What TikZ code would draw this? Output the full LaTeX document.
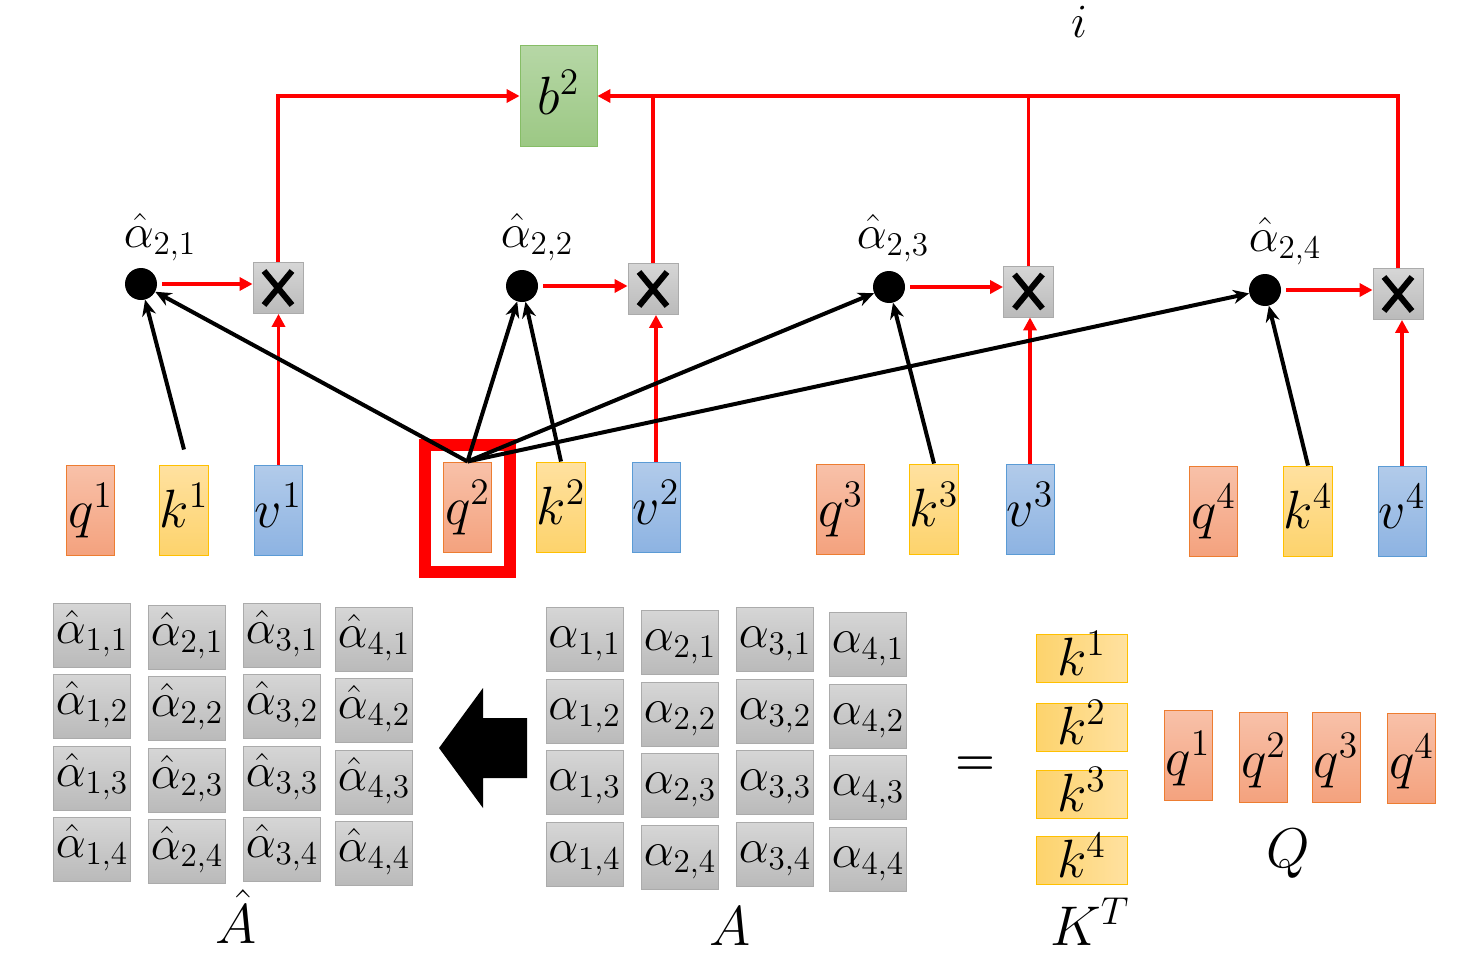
\documentclass[tikz,border=0pt]{standalone}
\usepackage{amsmath}
\usetikzlibrary{arrows.meta}
\definecolor{qtop}{HTML}{F8C1A9}
\definecolor{qbot}{HTML}{F4A27E}
\definecolor{qline}{HTML}{ED7D31}
\definecolor{ktop}{HTML}{FFE1A0}
\definecolor{kbot}{HTML}{FDD36C}
\definecolor{kline}{HTML}{FFC000}
\definecolor{vtop}{HTML}{B2CBEA}
\definecolor{vbot}{HTML}{8DB3E2}
\definecolor{vline}{HTML}{5B9BD5}
\definecolor{btop}{HTML}{B6D7A6}
\definecolor{bbot}{HTML}{9CC884}
\definecolor{bline}{HTML}{86BD66}
\definecolor{gtop}{HTML}{D6D6D6}
\definecolor{gbot}{HTML}{BABABA}
\definecolor{gline}{HTML}{ABABAB}
\definecolor{hred}{HTML}{FF0000}
\newcommand\MathAt[2]{\scalebox{#1}{\fontsize{20}{24}\selectfont$#2$}}
\newcommand\Mv[1]{\MathAt{2.6}{#1}}
\newcommand\Mc[1]{\MathAt{2.3}{#1}}
\newcommand\Ml[1]{\MathAt{2.7}{#1}}
\begin{document}
\begin{tikzpicture}[x=1pt,y=-1pt,
  vec/.style={minimum width=48pt,minimum height=90pt,inner sep=0pt,line width=1pt,
    text height=40pt,text depth=6pt},
  qbox/.style={vec,top color=qtop,bottom color=qbot,draw=qline},
  kbox/.style={vec,top color=ktop,bottom color=kbot,draw=kline},
  vbox/.style={vec,top color=vtop,bottom color=vbot,draw=vline},
  ktbox/.style={minimum width=91pt,minimum height=48pt,inner sep=0pt,line width=1pt,
    text height=40pt,text depth=6pt,left color=kbot,right color=ktop,draw=kline},
  qqbox/.style={qbox,text height=46pt,text depth=6pt},
  cell/.style={minimum width=77pt,minimum height=64pt,inner sep=0pt,line width=0.8pt,
    top color=gtop,bottom color=gbot,draw=gline,text height=24pt,text depth=8pt},
  xbox/.style={minimum width=50pt,minimum height=51pt,inner sep=0pt,line width=0.8pt,
    top color=gtop,bottom color=gbot,draw=gline},
  bbox/.style={minimum width=77pt,minimum height=101pt,inner sep=0pt,line width=0.8pt,
    top color=btop,bottom color=bbot,draw=bline,text height=36pt,text depth=0pt},
  dot/.style={circle,fill=black,minimum size=32pt,inner sep=0pt},
  txt/.style={inner sep=0pt,anchor=base},
  redln/.style={draw=hred,line width=3.5pt},
  redarr/.style={redln,-{Triangle[length=13pt,width=13pt]}},
  blkarr/.style={draw=black,line width=4pt,-{Stealth[length=16pt,width=14pt]}},
  xmark/.style={draw=black,line width=6pt}
]
\useasboundingbox (0,0) rectangle (1473,958);

% top label
\node[txt] (ilab) at (1079,38) {\Mc{i}};

% output b2
\node[bbox] (b) at (558.5,96) {\Mv{b^2}};

% multiplication boxes
\node[xbox] (x1) at (278,288) {};
\node[xbox] (x2) at (653,289) {};
\node[xbox] (x3) at (1028.5,291.5) {};
\node[xbox] (x4) at (1398,294) {};
\foreach \n in {x1,x2,x3,x4} {
  \draw[xmark] ([shift={(-14pt,17pt)}]\n.center) -- ([shift={(14pt,-17pt)}]\n.center);
  \draw[xmark] ([shift={(-14pt,-17pt)}]\n.center) -- ([shift={(14pt,17pt)}]\n.center);
}

% dots and their labels
\node[dot] (d1) at (141,284) {};
\node[dot] (d2) at (522,286) {};
\node[dot] (d3) at (889,287) {};
\node[dot] (d4) at (1265,290) {};
\node[txt] (l1) at (160,247) {\Mc{\hat\alpha_{2,1}}};
\node[txt] (l2) at (537,247) {\Mc{\hat\alpha_{2,2}}};
\node[txt] (l3) at (893,248) {\Mc{\hat\alpha_{2,3}}};
\node[txt] (l4) at (1285,251) {\Mc{\hat\alpha_{2,4}}};

% vectors
\node[qbox] (q1) at (90.5,510) {\Mv{q^1}};
\node[kbox] (k1) at (184,510) {\Mv{k^1}};
\node[vbox] (v1) at (278.5,510) {\Mv{v^1}};
\node[qbox] (q2) at (467.5,507) {\Mv{q^2}};
\node[kbox] (k2) at (561,507) {\Mv{k^2}};
\node[vbox] (v2) at (656,507) {\Mv{v^2}};
\node[qbox] (q3) at (840.5,509) {\Mv{q^3}};
\node[kbox] (k3) at (934,509) {\Mv{k^3}};
\node[vbox] (v3) at (1030,509) {\Mv{v^3}};
\node[qbox] (q4) at (1213.5,511) {\Mv{q^4}};
\node[kbox] (k4) at (1308,511) {\Mv{k^4}};
\node[vbox] (v4) at (1402,511) {\Mv{v^4}};

% highlight around q2
\node[draw=hred,line width=12pt,minimum width=85pt,minimum height=127pt,inner sep=0pt] (hl) at (467.5,508.5) {};

% red connectors
\draw[redarr] (x1.north) |- (b.west);
\draw[redarr] (x4.north) |- (b.east);
\draw[redln] (x2.north) -- (x2.north |- b.east);
\draw[redln] (x3.north) -- (x3.north |- b.east);
\foreach \i in {1,2,3,4} {
  \draw[redarr,shorten <=5pt] (d\i.east) -- (d\i.east -| x\i.west);
}
\draw[redarr] (v1.north) -- (v1.north |- x1.south);
\draw[redarr] (v2.north) -- (v2.north |- x2.south);
\draw[redarr] (v3.north) -- (v3.north |- x3.south);
\draw[redarr] (v4.north) -- (v4.north |- x4.south);

% black connectors
\draw[blkarr] ([yshift=15pt]k1.north) -- (d1);
\draw[blkarr] (q2.north) -- (d1);
\draw[blkarr] (q2.north) -- (d2);
\draw[blkarr] (k2.north) -- (d2);
\draw[blkarr] (q2.north) -- (d3);
\draw[blkarr] (k3.north) -- (d3);
\draw[blkarr] (q2.north) -- (d4);
\draw[blkarr] (k4.north) -- (d4);

% A-hat matrix
\foreach \c/\x/\dy in {1/92/0,2/187/2,3/282/0,4/374/4} {
  \foreach \r/\y in {1/635,2/706,3/778,4/849} {
    \node[cell] (ah\c\r) at (\x,{\y+\dy}) {\Mc{\hat\alpha_{\c,\r}}};
  }
}
\node[txt] (lAh) at (236,943) {\Ml{\hat A}};

% big left arrow
\fill[black] (439,748) -- (483,688) -- (483,718) -- (527,718) -- (527,778) -- (483,778) -- (483,808) -- cycle;

% A matrix
\foreach \c/\x/\dy in {1/584.5/0,2/680/3,3/775/0,4/868/5} {
  \foreach \r/\y in {1/639,2/711,3/782,4/854} {
    \node[cell] (a\c\r) at (\x,{\y+\dy}) {\Mc{\alpha_{\c,\r}}};
  }
}
\node[txt] (lA) at (730,945) {\Ml{A}};

% equals
\node[inner sep=0pt] (eq) at (975,766) {\MathAt{2.2}{\boldsymbol{=}}};

% K^T
\node[ktbox] (kt1) at (1081.5,658) {\Mv{k^1}};
\node[ktbox] (kt2) at (1081.5,727) {\Mv{k^2}};
\node[ktbox] (kt3) at (1081.5,794.5) {\Mv{k^3}};
\node[ktbox] (kt4) at (1081.5,860) {\Mv{k^4}};
\node[txt] (lK) at (1090,945) {\Ml{K^T}};

% Q
\node[qqbox] (qq1) at (1188,755.5) {\Mv{q^1}};
\node[qqbox] (qq2) at (1263.5,757) {\Mv{q^2}};
\node[qqbox] (qq3) at (1336,757) {\Mv{q^3}};
\node[qqbox] (qq4) at (1411.5,758) {\Mv{q^4}};
\node[txt] (lQ) at (1288,867) {\Ml{Q}};
\end{tikzpicture}
\end{document}
